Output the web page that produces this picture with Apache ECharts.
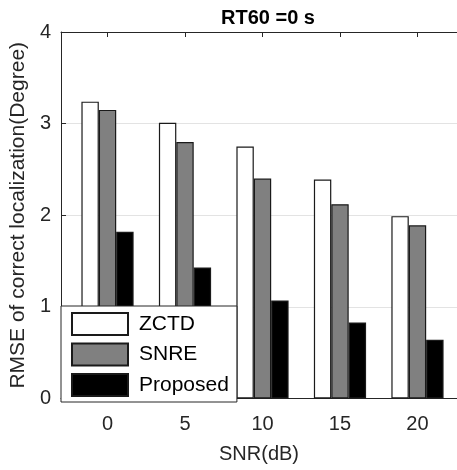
<!DOCTYPE html>
<html><head><meta charset="utf-8">
<script src="https://cdn.jsdelivr.net/npm/echarts@6/dist/echarts.min.js"></script>
<style>html,body{margin:0;padding:0;background:#fff}#c{width:457px;height:470px}</style>
</head><body><div id="c"></div>
<script>
const snr = [0, 5, 10, 15, 20];
const zctd = [3.24, 3.01, 2.75, 2.39, 1.99];
const snre = [3.15, 2.80, 2.40, 2.12, 1.89];
const proposed = [1.82, 1.43, 1.07, 0.83, 0.64];
const seriesNames = ['ZCTD', 'SNRE', 'Proposed'];
const yTicks = [0, 1, 2, 3, 4];

const font = 'Liberation Sans, Arial, sans-serif';
const chart = echarts.init(document.getElementById('c'), null, {renderer: 'canvas'});
function pairs(vals) { return snr.map((x, i) => [x, vals[i]]); }
const colors = ['#ffffff', '#808080', '#000000'];
const data = [zctd, snre, proposed];
chart.setOption({
  animation: false,
  title: {
    text: 'RT60 =0 s', left: 263, top: 3, textAlign: 'center',
    textStyle: {fontFamily: font, fontSize: 20, fontWeight: 'bold', color: '#000'}
  },
  grid: {left: 61, top: 32, right: 0, bottom: 71.5},
  legend: {
    orient: 'vertical', left: 61, top: 306,
    data: seriesNames,
    itemWidth: 56, itemHeight: 22, itemGap: 6.5,
    padding: [6, 8, 5, 10],
    backgroundColor: '#fff', borderColor: '#262626', borderWidth: 1,
    textStyle: {fontFamily: font, fontSize: 21, color: '#000', padding: [0, 0, 0, 6]},
    icon: 'rect'
  },
  xAxis: [{
    type: 'value', min: -3, max: 22.55,
    axisLine: {show: true, onZero: false, lineStyle: {color: '#262626', width: 1}},
    axisTick: {show: true, inside: true, length: 5, customValues: snr, lineStyle: {color: '#262626'}},
    axisLabel: {customValues: snr, fontFamily: font, fontSize: 20, color: '#262626', margin: 16},
    splitLine: {show: false},
    name: 'SNR(dB)', nameLocation: 'middle', nameGap: 46,
    nameTextStyle: {fontFamily: font, fontSize: 20, color: '#262626'}
  }, {
    type: 'value', min: -3, max: 22.55, position: 'top',
    axisLine: {show: true, onZero: false, lineStyle: {color: '#262626', width: 1}},
    axisTick: {show: true, inside: true, length: 5, customValues: snr, lineStyle: {color: '#262626'}},
    axisLabel: {show: false}, splitLine: {show: false}
  }],
  yAxis: {
    type: 'value', min: 0, max: 4, interval: 1,
    axisLine: {show: true, onZero: false, lineStyle: {color: '#262626', width: 1}},
    axisTick: {show: true, inside: true, length: 5, lineStyle: {color: '#262626'}},
    axisLabel: {customValues: yTicks, fontFamily: font, fontSize: 20, color: '#262626', margin: 10},
    splitLine: {show: true, lineStyle: {color: '#e3e3e3', width: 1}},
    name: 'RMSE of correct localization(Degree)', nameLocation: 'middle', nameGap: 27,
    nameTextStyle: {fontFamily: font, fontSize: 21, color: '#262626'}
  },
  series: seriesNames.map((n, k) => ({
    name: n, type: 'bar', xAxisIndex: 0,
    barWidth: 17.4, barGap: '0%',
    data: pairs(data[k]),
    itemStyle: {color: colors[k], borderColor: '#1a1a1a', borderWidth: 1.2}
  }))
});
</script></body></html>
